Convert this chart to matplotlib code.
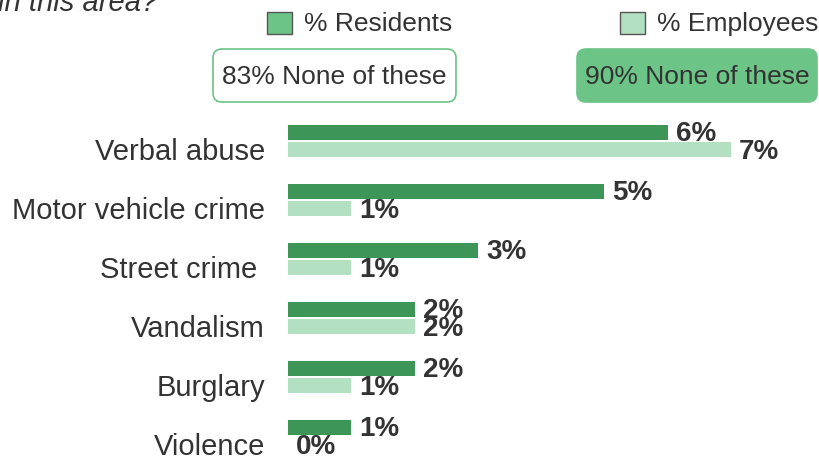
import matplotlib
matplotlib.use("Agg")
import matplotlib.pyplot as plt
from matplotlib.patches import FancyBboxPatch, Rectangle

plt.rcParams['font.family'] = ['Liberation Sans', 'DejaVu Sans']

categories = ["Verbal abuse", "Motor vehicle crime", "Street crime ", "Vandalism", "Burglary", "Violence"]
residents = [6, 5, 3, 2, 2, 1]
employees = [7, 1, 1, 2, 1, 0]
series_names = ["% Residents", "% Employees"]
none_of_these = [83, 90]

dark = "#3d9658"
light = "#b2e0c1"
legend_res = "#6cc487"
text_col = "#333333"

W, H = 820, 464
fig = plt.figure(figsize=(W / 100, H / 100), dpi=100)

# bar area: x in percent, y in pixel rows
ax = fig.add_axes([0, 0, 1, 1])
px_per_pct = 63.3
x0 = 288
ax.set_xlim(-x0 / px_per_pct, (W - x0) / px_per_pct)
ax.set_ylim(H, 0)
ax.axis("off")

step = 59
bar_h = 15
for i, (cat, r, e) in enumerate(zip(categories, residents, employees)):
    yr = 133 + step * i
    ye = yr + 17
    ax.barh(yr, r, height=bar_h, color=dark)
    ax.barh(ye, e, height=bar_h, color=light)
    ax.text(r + 8 / px_per_pct, yr + 1, f"{r}%", fontsize=20, fontweight="bold",
            color=text_col, va="center", ha="left")
    ax.text(e + 8 / px_per_pct, ye + 2, f"{e}%", fontsize=20, fontweight="bold",
            color=text_col, va="center", ha="left")
    ax.text(-23 / px_per_pct, ye + 2, cat, fontsize=21, color=text_col,
            va="center", ha="right")

# header: question tail, legend and "none of these" boxes
deco = fig.add_axes([0, 0, 1, 1])
deco.set_xlim(0, W)
deco.set_ylim(H, 0)
deco.axis("off")

deco.text(157, 11, "in this area?", fontsize=21, style="italic", color=text_col,
          ha="right", va="baseline")

legend_x = [267, 620]
legend_fc = [legend_res, light]
for lx, fc, name in zip(legend_x, legend_fc, series_names):
    deco.add_patch(Rectangle((lx, 13), 25, 22, facecolor=fc, edgecolor="#555555", lw=1))
    deco.text(lx + 37, 24, name, fontsize=19, color=text_col, va="center", ha="left")

box_x = [(213, 456), (577, 817)]
box_fill = ["white", legend_res]
for (bx0, bx1), fc, pct in zip(box_x, box_fill, none_of_these):
    deco.add_patch(FancyBboxPatch((bx0, 50), bx1 - bx0, 53,
                                  boxstyle="round,pad=0,rounding_size=9",
                                  facecolor=fc, edgecolor=legend_res, lw=1.2))
    deco.text((bx0 + bx1) / 2, 77, f"{pct}% None of these", fontsize=19,
              color=text_col, va="center", ha="center")

fig.savefig("out.png", dpi=100)
